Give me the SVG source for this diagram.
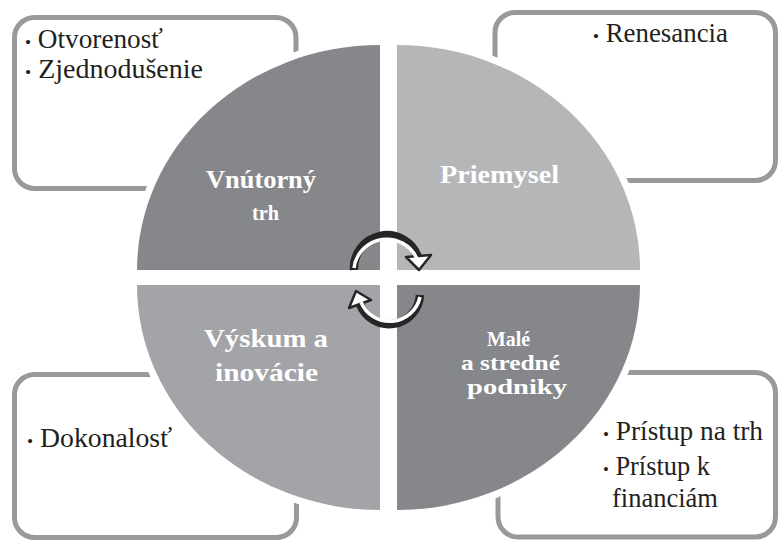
<svg xmlns="http://www.w3.org/2000/svg" width="778" height="542" viewBox="0 0 778 542">
<defs>
<style>
.box{fill:#fff;stroke:#98999b;stroke-width:5}
.q{stroke:#fff;stroke-width:14;paint-order:stroke;stroke-linejoin:round}
.lbl{font-family:"Liberation Serif","DejaVu Serif",serif;font-weight:bold;font-size:25px;fill:#fff}
.sm{font-size:21px}
.bt{font-family:"Liberation Serif","DejaVu Serif",serif;font-size:27px;fill:#231f20}
.bul{font-size:17px}
.shaft{fill:none;stroke:#262626;stroke-width:8.5}
.core{fill:none;stroke:#fff;stroke-width:3.5}
.head{fill:#fff;stroke:#262626;stroke-width:2.5;stroke-linejoin:round}
</style>
</defs>
<rect width="778" height="542" fill="#fff"/>
<g id="box-tl"><rect class="box" x="14.5" y="17.5" width="281.5" height="171" rx="20"/>
<text class="bt" x="25" y="48" textLength="138" lengthAdjust="spacingAndGlyphs"><tspan class="bul">•</tspan> Otvorenosť</text>
<text class="bt" x="25" y="78" textLength="178" lengthAdjust="spacingAndGlyphs"><tspan class="bul">•</tspan> Zjednodušenie</text></g>
<g id="box-tr"><rect class="box" x="495" y="12.5" width="280.5" height="168" rx="20"/>
<text class="bt" x="593" y="42" textLength="135" lengthAdjust="spacingAndGlyphs"><tspan class="bul">•</tspan> Renesancia</text></g>
<g id="box-bl"><rect class="box" x="14.5" y="374.5" width="282" height="163" rx="20"/>
<text class="bt" x="27" y="447" textLength="145" lengthAdjust="spacingAndGlyphs"><tspan class="bul">•</tspan> Dokonalosť</text></g>
<g id="box-br"><rect class="box" x="498" y="372.5" width="277.5" height="164.5" rx="20"/>
<text class="bt" x="603" y="440" textLength="160" lengthAdjust="spacingAndGlyphs"><tspan class="bul">•</tspan> Prístup na trh</text>
<text class="bt" x="603" y="475" textLength="107" lengthAdjust="spacingAndGlyphs"><tspan class="bul">•</tspan> Prístup k</text>
<text class="bt" x="612" y="507" textLength="106" lengthAdjust="spacingAndGlyphs">financiám</text></g>
<g id="q-tl"><path class="q" fill="#86878b" d="M380,270 L137,270 A243,225 0 0 1 380,45 Z"/>
<text class="lbl" x="206" y="188" textLength="110" lengthAdjust="spacingAndGlyphs">Vnútorný</text>
<text class="lbl" x="252" y="220" style="font-size:20px" textLength="27" lengthAdjust="spacingAndGlyphs">trh</text></g>
<g id="q-tr"><path class="q" fill="#b5b6b8" d="M397,270 L397,45 A243,225 0 0 1 640,270 Z"/>
<text class="lbl" x="440" y="183" textLength="119" lengthAdjust="spacingAndGlyphs">Priemysel</text></g>
<g id="q-bl"><path class="q" fill="#a3a4a7" d="M380,285 L137,285 A243,225 0 0 0 380,510 Z"/>
<text class="lbl" x="204" y="347" textLength="124" lengthAdjust="spacingAndGlyphs">Výskum a</text>
<text class="lbl" x="215" y="381" textLength="103" lengthAdjust="spacingAndGlyphs">inovácie</text></g>
<g id="q-br"><path class="q" fill="#86878b" d="M397,285 L640,285 A243,225 0 0 1 397,510 Z"/>
<text class="lbl sm" x="487" y="346" textLength="43" lengthAdjust="spacingAndGlyphs">Malé</text>
<text class="lbl sm" x="461" y="370" textLength="99" lengthAdjust="spacingAndGlyphs">a stredné</text>
<text class="lbl sm" x="467" y="394" textLength="100" lengthAdjust="spacingAndGlyphs">podniky</text></g>
<g id="connectors">
<g id="arrow-top">
<path class="shaft" d="M354,270 A33,33 0 0 1 418,257"/>
<polygon class="head" points="406,257 431,255 419,270"/>
<path class="core" d="M354,268 A33,33 0 0 1 417,259"/>
</g>
<g id="arrow-bottom">
<path class="shaft" d="M420,295 A31,31 0 0 1 360,304"/>
<polygon class="head" points="349,308 371,300 356,291"/>
<path class="core" d="M420,297 A31,31 0 0 1 361,302"/>
</g>
</g>
</svg>
